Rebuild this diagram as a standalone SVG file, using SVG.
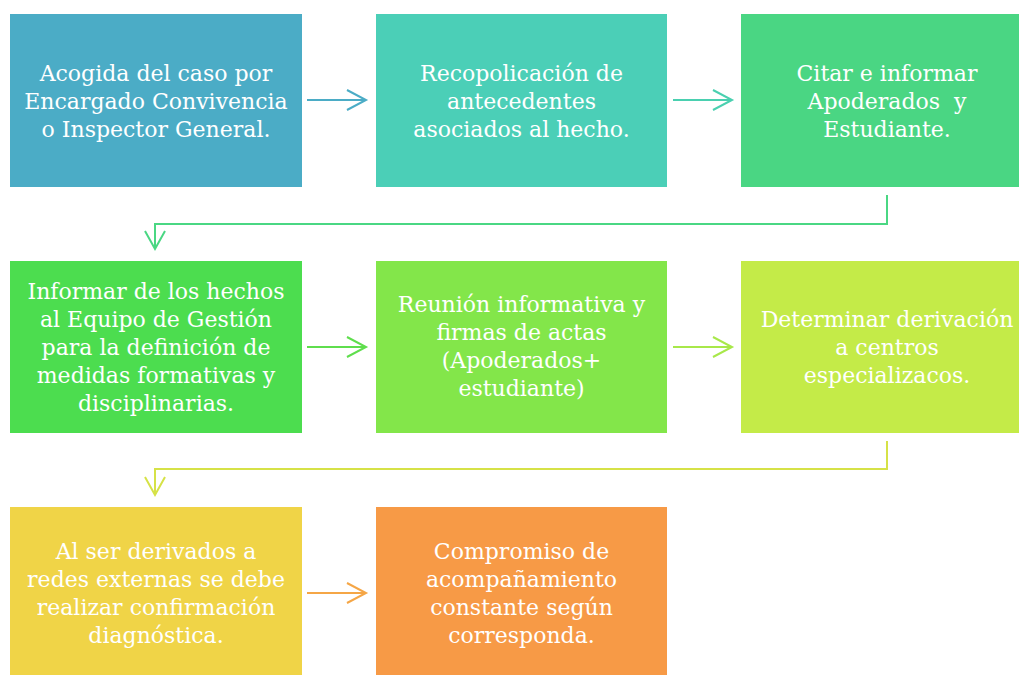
<svg xmlns="http://www.w3.org/2000/svg" width="1019" height="675" viewBox="0 0 1019 675">
<style>
  .lbl { font-family: "DejaVu Serif", "Liberation Serif", serif; font-size: 22px; fill: #FFFFFF; text-anchor: middle; }
  .conn { fill: none; stroke-width: 2; }
</style>
<rect width="1019" height="675" fill="#FFFFFF"/>
<g id="connectors">
  <g stroke="#4BACC6" class="conn"><line x1="307" y1="100" x2="366" y2="100"/><polyline points="347,90 366,100 347,110"/></g>
  <g stroke="#4AD0B0" class="conn"><line x1="673" y1="100" x2="732" y2="100"/><polyline points="713,90 732,100 713,110"/></g>
  <g stroke="#4AD783" class="conn"><polyline points="887,195 887,224 155,224 155,249"/><polyline points="145,231 155,249 165,231"/></g>
  <g stroke="#5FDE4D" class="conn"><line x1="307" y1="347" x2="366" y2="347"/><polyline points="347,337 366,347 347,357"/></g>
  <g stroke="#A8E84A" class="conn"><line x1="673" y1="347" x2="732" y2="347"/><polyline points="713,337 732,347 713,357"/></g>
  <g stroke="#D6E247" class="conn"><polyline points="887,441 887,469 155,469 155,495"/><polyline points="145,477 155,495 165,477"/></g>
  <g stroke="#F5A646" class="conn"><line x1="307" y1="593" x2="366" y2="593"/><polyline points="347,583 366,593 347,603"/></g>
</g>
<g id="n1"><rect x="10" y="14" width="292" height="173" fill="#4BACC6"/>
  <text class="lbl"><tspan x="156" y="81">Acogida del caso por</tspan><tspan x="156" y="109">Encargado Convivencia</tspan><tspan x="156" y="137">o Inspector General.</tspan></text></g>
<g id="n2"><rect x="376" y="14" width="291" height="173" fill="#4BCFB7"/>
  <text class="lbl"><tspan x="521.5" y="81">Recopolicación de</tspan><tspan x="521.5" y="109">antecedentes</tspan><tspan x="521.5" y="137">asociados al hecho.</tspan></text></g>
<g id="n3"><rect x="741" y="14" width="292" height="173" fill="#4AD683"/>
  <text class="lbl"><tspan x="887" y="81">Citar e informar</tspan><tspan x="887" y="109" xml:space="preserve">Apoderados  y</tspan><tspan x="887" y="137">Estudiante.</tspan></text></g>
<g id="n4"><rect x="10" y="261" width="292" height="172" fill="#4CDD4F"/>
  <text class="lbl"><tspan x="156" y="299">Informar de los hechos</tspan><tspan x="156" y="327">al Equipo de Gestión</tspan><tspan x="156" y="355">para la definición de</tspan><tspan x="156" y="383">medidas formativas y</tspan><tspan x="156" y="411">disciplinarias.</tspan></text></g>
<g id="n5"><rect x="376" y="261" width="291" height="172" fill="#83E64A"/>
  <text class="lbl"><tspan x="521.5" y="312">Reunión informativa y</tspan><tspan x="521.5" y="340">firmas de actas</tspan><tspan x="521.5" y="368">(Apoderados+</tspan><tspan x="521.5" y="396">estudiante)</tspan></text></g>
<g id="n6"><rect x="741" y="261" width="292" height="172" fill="#C4EB48"/>
  <text class="lbl"><tspan x="887" y="327">Determinar derivación</tspan><tspan x="887" y="355">a centros</tspan><tspan x="887" y="383">especializacos.</tspan></text></g>
<g id="n7"><rect x="10" y="507" width="292" height="172" fill="#F0D447"/>
  <text class="lbl"><tspan x="156" y="559">Al ser derivados a</tspan><tspan x="156" y="587">redes externas se debe</tspan><tspan x="156" y="615">realizar confirmación</tspan><tspan x="156" y="643">diagnóstica.</tspan></text></g>
<g id="n8"><rect x="376" y="507" width="291" height="172" fill="#F79A46"/>
  <text class="lbl"><tspan x="521.5" y="559">Compromiso de</tspan><tspan x="521.5" y="587">acompañamiento</tspan><tspan x="521.5" y="615">constante según</tspan><tspan x="521.5" y="643">corresponda.</tspan></text></g>
</svg>
